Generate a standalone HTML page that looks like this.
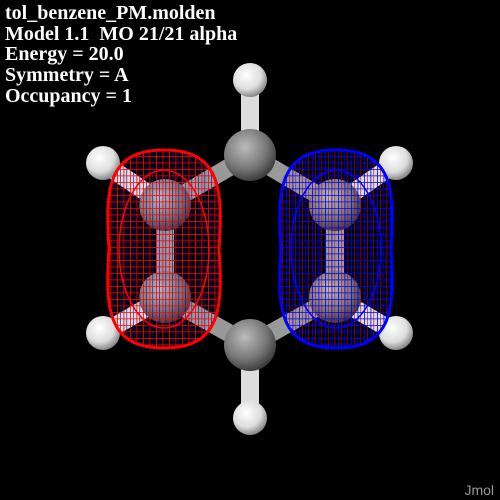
<!DOCTYPE html>
<html><head><meta charset="utf-8"><style>
html,body{margin:0;padding:0;background:#000;width:500px;height:500px;overflow:hidden}
.t{position:absolute;left:5px;color:#fff;font:bold 20px "Liberation Serif",serif;line-height:20.7px;z-index:2}
</style></head><body>
<div class="t" style="top:3px">tol_benzene_PM.molden<br>Model 1.1&nbsp; MO 21/21 alpha<br>Energy = 20.0<br>Symmetry = A<br>Occupancy = 1</div>
<div style="position:absolute;right:6px;bottom:2px;color:#999;font:14px 'Liberation Sans',sans-serif;z-index:2">Jmol</div>
<svg width="500" height="500" style="position:absolute;left:0;top:0">
<defs>
<radialGradient id="gC" cx="0.4" cy="0.35" r="0.7"><stop offset="0" stop-color="#bbb"/><stop offset="0.6" stop-color="#777"/><stop offset="1" stop-color="#333"/></radialGradient>
<radialGradient id="gH" cx="0.4" cy="0.35" r="0.7"><stop offset="0" stop-color="#fff"/><stop offset="0.6" stop-color="#ddd"/><stop offset="1" stop-color="#777"/></radialGradient>
<pattern id="mr" width="6.5" height="6.5" patternUnits="userSpaceOnUse"><path d="M0 0H6.5M0 0V6.5" stroke="#f00" stroke-width="1.6" fill="none"/></pattern>
<pattern id="mb" width="6.5" height="6.5" patternUnits="userSpaceOnUse"><path d="M0 0H6.5M0 0V6.5" stroke="#00f" stroke-width="1.6" fill="none"/></pattern>
<pattern id="mr2" width="6.5" height="6.5" patternUnits="userSpaceOnUse" x="3" y="2"><path d="M0 0V6.5" stroke="#c00" stroke-width="1.2" fill="none"/></pattern>
<pattern id="mb2" width="6.5" height="6.5" patternUnits="userSpaceOnUse" x="3" y="2"><path d="M0 0V6.5" stroke="#00c" stroke-width="1.2" fill="none"/></pattern>
</defs>
<g id="bonds"></g><g id="atoms"></g><g id="lobes"></g>
</svg>
<script>
const atomX=[250,250,165,165,335,335,250,250,103,103,396,396];
const atomY=[155,345,205,297,205,297,80,418,163,333,163,333];
const atomType=["C","C","C","C","C","C","H","H","H","H","H","H"];
const bondA=[0,0,1,1,2,4,0,1,2,3,4,5];
const bondB=[2,4,3,5,3,5,6,7,8,9,10,11];
const NS="http://www.w3.org/2000/svg";
const bg=document.getElementById('bonds'),ag=document.getElementById('atoms'),lg=document.getElementById('lobes');
bondA.forEach((a,i)=>{const b=bondB[i];
 const l=document.createElementNS(NS,'line');
 l.setAttribute('x1',atomX[a]);l.setAttribute('y1',atomY[a]);l.setAttribute('x2',atomX[b]);l.setAttribute('y2',atomY[b]);
 const h=atomType[b]==="H";
 l.setAttribute('stroke',h?'#ddd':'#999');l.setAttribute('stroke-width',18);
 
 
 bg.appendChild(l);});
atomX.forEach((x,i)=>{const c=document.createElementNS(NS,'circle');
 const h=atomType[i]==="H";
 c.setAttribute('cx',x);c.setAttribute('cy',atomY[i]);c.setAttribute('r',h?17:26);
 c.setAttribute('fill',h?'url(#gH)':'url(#gC)');
 
 
 ag.appendChild(c);});
function lobe(cx,front,back,col,name){
 const w=57,t=150,b=348;
 const d=`M${cx} ${t} C${cx+w} ${t} ${cx+w+2} ${t+40} ${cx+w-2} ${(t+b)/2} C${cx+w+2} ${b-40} ${cx+w} ${b} ${cx} ${b} C${cx-w} ${b} ${cx-w-2} ${b-40} ${cx-w+2} ${(t+b)/2} C${cx-w-2} ${t+40} ${cx-w} ${t} ${cx} ${t}Z`;
 const p1=document.createElementNS(NS,'path');p1.setAttribute('d',d);p1.setAttribute('fill',back);
 
 
 lg.appendChild(p1);
 const p2=document.createElementNS(NS,'path');p2.setAttribute('d',d);p2.setAttribute('fill',front);
 p2.setAttribute('stroke',col);p2.setAttribute('stroke-width','3');
 
 
 lg.appendChild(p2);
 const e=document.createElementNS(NS,'ellipse');e.setAttribute('cx',cx);e.setAttribute('cy',(t+b)/2);
 e.setAttribute('rx',w-12);e.setAttribute('ry',(b-t)/2-20);e.setAttribute('fill','none');
 e.setAttribute('stroke',col);e.setAttribute('stroke-width','1.5');
 
 
 lg.appendChild(e);}
lobe(164,'url(#mr)','url(#mb2)','#f00','red-orbital-lobe');
lobe(336,'url(#mb)','url(#mr2)','#00f','blue-orbital-lobe');
</script>
</body></html>
